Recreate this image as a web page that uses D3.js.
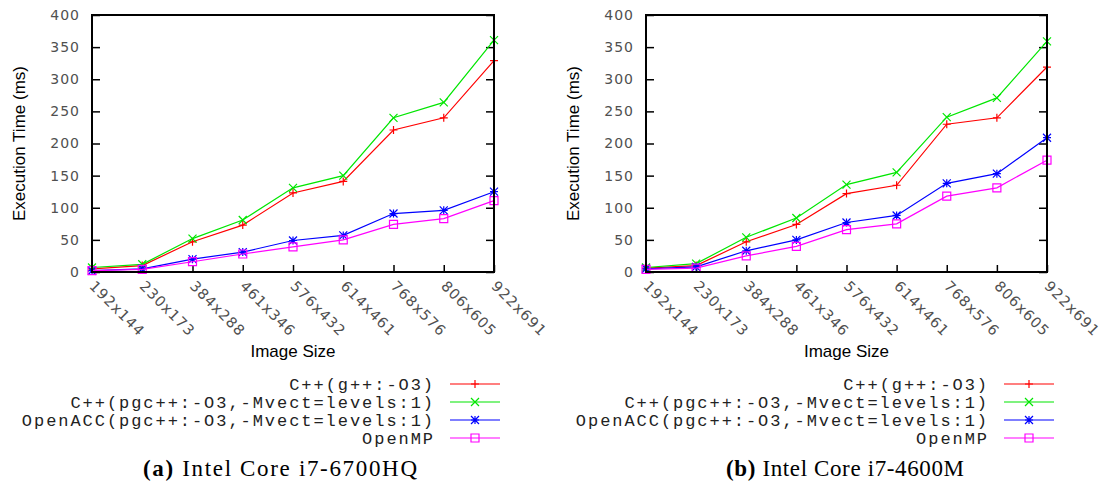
<!DOCTYPE html>
<html>
<head>
<meta charset="utf-8">
<script src="https://cdn.jsdelivr.net/npm/d3@7"></script>
<style>
  html, body { margin: 0; padding: 0; background: #fff; }
  svg { display: block; }
</style>
</head>
<body>
<svg id="chart" width="1106" height="485"></svg>
<script>
// Image sizes on the x axis
const sizes = ["192x144", "230x173", "384x288", "461x346", "576x432",
               "614x461", "768x576", "806x605", "922x691"];
const yTicks = [0, 50, 100, 150, 200, 250, 300, 350, 400];
const seriesNames = [
  "C++(g++:-O3)",
  "C++(pgc++:-O3,-Mvect=levels:1)",
  "OpenACC(pgc++:-O3,-Mvect=levels:1)",
  "OpenMP"
];

// Execution times (ms), Intel Core i7-6700HQ
const gppA = [5, 10, 47, 73, 123, 141, 221, 240, 329];
const pgcA = [7, 12, 52, 81, 131, 150, 240, 264, 361];
const accA = [2, 5, 20, 31, 49, 57, 91, 96, 125];
const ompA = [2, 4, 16, 28, 39, 50, 74, 83, 111];

// Execution times (ms), Intel Core i7-4600M
const gppB = [6, 10, 47, 74, 122, 135, 230, 240, 319];
const pgcB = [7, 13, 54, 84, 136, 155, 241, 271, 359];
const accB = [5, 8, 33, 50, 77, 88, 138, 153, 209];
const ompB = [4, 6, 25, 40, 66, 75, 118, 131, 174];

const colors = ["#ff0000", "#00e600", "#0000ff", "#ff00ff"];
const markerKinds = ["plus", "cross", "star", "square"];

const svg = d3.select("#chart");

function marker(g, kind, x, y, color) {
  const s = 4;
  const p = d3.path();
  if (kind === "plus" || kind === "star") {
    p.moveTo(x - s, y); p.lineTo(x + s, y);
    p.moveTo(x, y - s); p.lineTo(x, y + s);
  }
  if (kind === "cross" || kind === "star") {
    p.moveTo(x - s, y - s); p.lineTo(x + s, y + s);
    p.moveTo(x - s, y + s); p.lineTo(x + s, y - s);
  }
  if (kind === "square") {
    p.rect(x - s, y - s, 2 * s, 2 * s);
  }
  g.append("path").attr("d", p.toString())
    .attr("fill", "none").attr("stroke", color).attr("stroke-width", 1.2);
}

function drawPanel(cfg) {
  const { left, right, top, bottom, series, caption, tag } = cfg;
  const g = svg.append("g");

  const x = d3.scalePoint().domain(sizes).range([left, right]);
  const y = d3.scaleLinear().domain([0, 400]).range([bottom, top]);

  // y axis (left) with inward ticks
  const yAxis = g.append("g").attr("transform", `translate(${left},0)`)
    .call(d3.axisLeft(y).tickValues(yTicks).tickSizeInner(-8).tickSizeOuter(0).tickPadding(12));
  yAxis.select(".domain").remove();
  yAxis.selectAll(".tick line").attr("stroke", "#000").attr("stroke-width", 1.5);
  yAxis.selectAll(".tick text")
    .attr("font-family", "DejaVu Sans").attr("font-size", 14)
    .attr("letter-spacing", "1px").attr("fill", "#505050");

  // mirrored y ticks on the right
  const yAxisR = g.append("g").attr("transform", `translate(${right},0)`)
    .call(d3.axisRight(y).tickValues(yTicks).tickSizeInner(-8).tickSizeOuter(0).tickFormat(""));
  yAxisR.select(".domain").remove();
  yAxisR.selectAll(".tick line").attr("stroke", "#000").attr("stroke-width", 1.5);

  // x axis with inward ticks and rotated labels
  const xAxis = g.append("g").attr("transform", `translate(0,${bottom})`)
    .call(d3.axisBottom(x).tickSizeInner(-7).tickSizeOuter(0));
  xAxis.select(".domain").remove();
  xAxis.selectAll(".tick line").attr("stroke", "#000").attr("stroke-width", 1.5);
  xAxis.selectAll(".tick text")
    .attr("font-family", "DejaVu Sans").attr("font-size", 14.5)
    .attr("letter-spacing", "1px").attr("fill", "#505050")
    .attr("text-anchor", "start")
    .attr("dy", null)
    .attr("y", null)
    .attr("transform", "translate(-4,15) rotate(45)");

  // series lines and markers
  const line = d3.line().x((d, i) => x(sizes[i])).y(d => y(d));
  series.forEach((vals, k) => {
    g.append("path").datum(vals).attr("d", line)
      .attr("fill", "none").attr("stroke", colors[k]).attr("stroke-width", 1.2);
    vals.forEach((v, i) => marker(g, markerKinds[k], x(sizes[i]), y(v), colors[k]));
  });

  // frame
  g.append("rect").attr("x", left).attr("y", top)
    .attr("width", right - left).attr("height", bottom - top)
    .attr("fill", "none").attr("stroke", "#000").attr("stroke-width", 2);

  // axis titles
  g.append("text")
    .attr("transform", `translate(${left - 73},${(top + bottom) / 2}) rotate(-90)`)
    .attr("text-anchor", "middle").attr("dy", "0.35em")
    .attr("font-family", "Liberation Sans").attr("font-size", 17)
    .attr("fill", "#000").text("Execution Time (ms)");
  g.append("text")
    .attr("x", (left + right) / 2).attr("y", 357)
    .attr("text-anchor", "middle")
    .attr("font-family", "Liberation Sans").attr("font-size", 17)
    .attr("fill", "#000").text("Image Size");

  // legend
  const lg = g.append("g");
  const textEnd = left + 343;
  const l0 = left + 358, l1 = left + 408;
  seriesNames.forEach((name, k) => {
    const cy = 384 + k * 18;
    lg.append("text").attr("x", textEnd).attr("y", cy).attr("dy", "0.35em")
      .attr("text-anchor", "end")
      .attr("font-family", "Liberation Mono").attr("font-size", 17)
      .attr("letter-spacing", "1.95px")
      .attr("fill", "#222").text(name);
    lg.append("line").attr("x1", l0).attr("x2", l1).attr("y1", cy).attr("y2", cy)
      .attr("stroke", colors[k]).attr("stroke-width", 1.2);
    marker(lg, markerKinds[k], (l0 + l1) / 2, cy, colors[k]);
  });

  // caption
  const cap = g.append("text").attr("x", cfg.captionX - cfg.captionW / 2).attr("y", 476)
    .attr("text-anchor", "start")
    .attr("textLength", cfg.captionW).attr("lengthAdjust", "spacing")
    .attr("font-family", "Liberation Serif").attr("font-size", 23)
    .attr("fill", "#000");
  cap.append("tspan").attr("font-weight", "bold").text(tag);
  cap.append("tspan").text(" " + caption);
}

drawPanel({
  left: 92, right: 494, top: 15, bottom: 272,
  series: [gppA, pgcA, accA, ompA],
  tag: "(a)", caption: "Intel Core i7-6700HQ", captionX: 280, captionW: 274
});
drawPanel({
  left: 646, right: 1047, top: 15, bottom: 272,
  series: [gppB, pgcB, accB, ompB],
  tag: "(b)", caption: "Intel Core i7-4600M", captionX: 845, captionW: 238
});
</script>
</body>
</html>
